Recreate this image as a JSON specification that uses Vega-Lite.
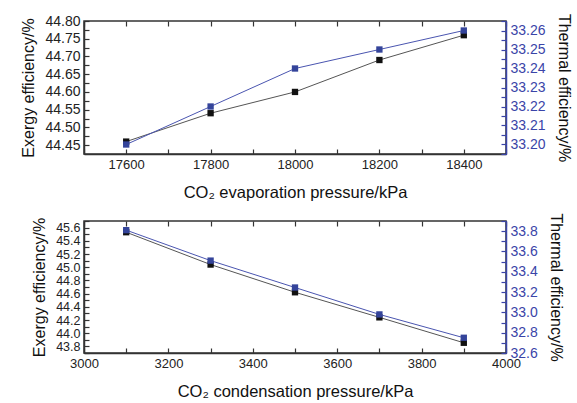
{
  "$schema": "https://vega.github.io/schema/vega-lite/v6.json",
  "padding": {"left": 20, "top": 12, "right": 5, "bottom": 5},
  "config": {
    "font": "Liberation Sans",
    "view": {"stroke": "#333333", "strokeWidth": 1.5},
    "concat": {"spacing": 67},
    "axis": {"grid": false, "zindex": 1, "domainColor": "#333333", "domainWidth": 1.5, "tickColor": "#333333", "tickSize": -5, "tickWidth": 1.2, "labelFontSize": 14, "labelColor": "#222222", "titleFontSize": 16, "titleFontWeight": "normal", "titleColor": "#111111", "labelPadding": 9, "labelOverlap": false, "labelFlush": false, "labelBound": false}
  },
  "datasets": {
    "evap": [
      {"p": 17600, "exergy": 44.46, "thermal": 33.200},
      {"p": 17800, "exergy": 44.54, "thermal": 33.220},
      {"p": 18000, "exergy": 44.60, "thermal": 33.240},
      {"p": 18200, "exergy": 44.69, "thermal": 33.250},
      {"p": 18400, "exergy": 44.76, "thermal": 33.260}
    ],
    "cond": [
      {"p": 3100, "exergy": 45.53, "thermal": 33.81},
      {"p": 3300, "exergy": 45.04, "thermal": 33.51},
      {"p": 3500, "exergy": 44.62, "thermal": 33.245},
      {"p": 3700, "exergy": 44.24, "thermal": 32.98},
      {"p": 3900, "exergy": 43.855, "thermal": 32.75}
    ]
  },
  "bounds": "flush",
  "vconcat": [
    {
      "width": 422,
      "height": 133,
      "data": {"name": "evap"},
      "layer": [
        {
          "mark": {"type": "line", "color": "#555555", "strokeWidth": 1, "point": {"shape": "square", "filled": true, "color": "#111111", "size": 40}},
          "encoding": {
            "x": {"field": "p", "type": "quantitative", "scale": {"domain": [17500, 18500], "nice": false, "zero": false},
              "axis": {"title": "CO₂ evaporation pressure/kPa", "titleFontSize": 16.5, "titlePadding": 13, "labelFontSize": 13, "format": "d",
                "values": [17500, 17600, 17700, 17800, 17900, 18000, 18100, 18200, 18300, 18400, 18500],
                "labelExpr": "datum.value % 200 === 0 ? datum.label : ''"}},
            "y": {"field": "exergy", "type": "quantitative", "scale": {"domain": [44.425, 44.8], "nice": false, "zero": false},
              "axis": {"title": "Exergy efficiency/%", "titlePadding": 8, "format": ".2f",
                "values": [44.45, 44.475, 44.5, 44.525, 44.55, 44.575, 44.6, 44.625, 44.65, 44.675, 44.7, 44.725, 44.75, 44.775, 44.8],
                "labelExpr": "round(datum.value * 1000) % 50 === 0 ? datum.label : ''"}}
          }
        },
        {
          "mark": {"type": "line", "color": "#4a55b0", "strokeWidth": 1, "point": {"shape": "square", "filled": true, "color": "#34449a", "size": 40}},
          "encoding": {
            "x": {"field": "p", "type": "quantitative", "axis": null},
            "y": {"field": "thermal", "type": "quantitative", "scale": {"domain": [33.195, 33.265], "nice": false, "zero": false},
              "axis": {"orient": "right", "title": "Thermal efficiency/%", "titlePadding": 10, "format": ".2f", "domainColor": "#3a44a8", "tickColor": "#3a44a8", "labelColor": "#3a44a8",
                "values": [33.195, 33.2, 33.205, 33.21, 33.215, 33.22, 33.225, 33.23, 33.235, 33.24, 33.245, 33.25, 33.255, 33.26, 33.265],
                "labelExpr": "round(datum.value * 1000) % 10 === 0 ? datum.label : ''"}}
          }
        },
        {
          "mark": {"type": "rule", "opacity": 0},
          "encoding": {
            "x": {"field": "p", "type": "quantitative",
              "axis": {"orient": "top", "title": null, "labels": false, "domain": false,
                "values": [17500, 17600, 17700, 17800, 17900, 18000, 18100, 18200, 18300, 18400, 18500]}}
          }
        }
      ],
      "resolve": {"scale": {"y": "independent"}, "axis": {"x": "independent", "y": "independent"}}
    },
    {
      "width": 422,
      "height": 132,
      "data": {"name": "cond"},
      "layer": [
        {
          "mark": {"type": "line", "color": "#555555", "strokeWidth": 1, "point": {"shape": "square", "filled": true, "color": "#111111", "size": 40}},
          "encoding": {
            "x": {"field": "p", "type": "quantitative", "scale": {"domain": [3000, 4000], "nice": false, "zero": false},
              "axis": {"title": "CO₂ condensation pressure/kPa", "titleFontSize": 16.5, "titlePadding": 13, "labelFontSize": 13, "format": "d",
                "values": [3000, 3100, 3200, 3300, 3400, 3500, 3600, 3700, 3800, 3900, 4000],
                "labelExpr": "datum.value % 200 === 0 ? datum.label : ''"}},
            "y": {"field": "exergy", "type": "quantitative", "scale": {"domain": [43.7, 45.7], "nice": false, "zero": false},
              "axis": {"title": "Exergy efficiency/%", "titlePadding": 8, "format": ".1f", "labelFontSize": 12.5,
                "values": [43.7, 43.8, 43.9, 44.0, 44.1, 44.2, 44.3, 44.4, 44.5, 44.6, 44.7, 44.8, 44.9, 45.0, 45.1, 45.2, 45.3, 45.4, 45.5, 45.6, 45.7],
                "labelExpr": "round(datum.value * 10) % 2 === 0 ? datum.label : ''"}}
          }
        },
        {
          "mark": {"type": "line", "color": "#4a55b0", "strokeWidth": 1, "point": {"shape": "square", "filled": true, "color": "#34449a", "size": 40}},
          "encoding": {
            "x": {"field": "p", "type": "quantitative", "axis": null},
            "y": {"field": "thermal", "type": "quantitative", "scale": {"domain": [32.6, 33.9], "nice": false, "zero": false},
              "axis": {"orient": "right", "title": "Thermal efficiency/%", "titlePadding": 10, "format": ".1f", "domainColor": "#3a44a8", "tickColor": "#3a44a8", "labelColor": "#3a44a8",
                "values": [32.6, 32.7, 32.8, 32.9, 33.0, 33.1, 33.2, 33.3, 33.4, 33.5, 33.6, 33.7, 33.8, 33.9],
                "labelExpr": "round(datum.value * 10) % 2 === 0 ? datum.label : ''"}}
          }
        },
        {
          "mark": {"type": "rule", "opacity": 0},
          "encoding": {
            "x": {"field": "p", "type": "quantitative",
              "axis": {"orient": "top", "title": null, "labels": false, "domain": false,
                "values": [3000, 3100, 3200, 3300, 3400, 3500, 3600, 3700, 3800, 3900, 4000]}}
          }
        }
      ],
      "resolve": {"scale": {"y": "independent"}, "axis": {"x": "independent", "y": "independent"}}
    }
  ]
}
